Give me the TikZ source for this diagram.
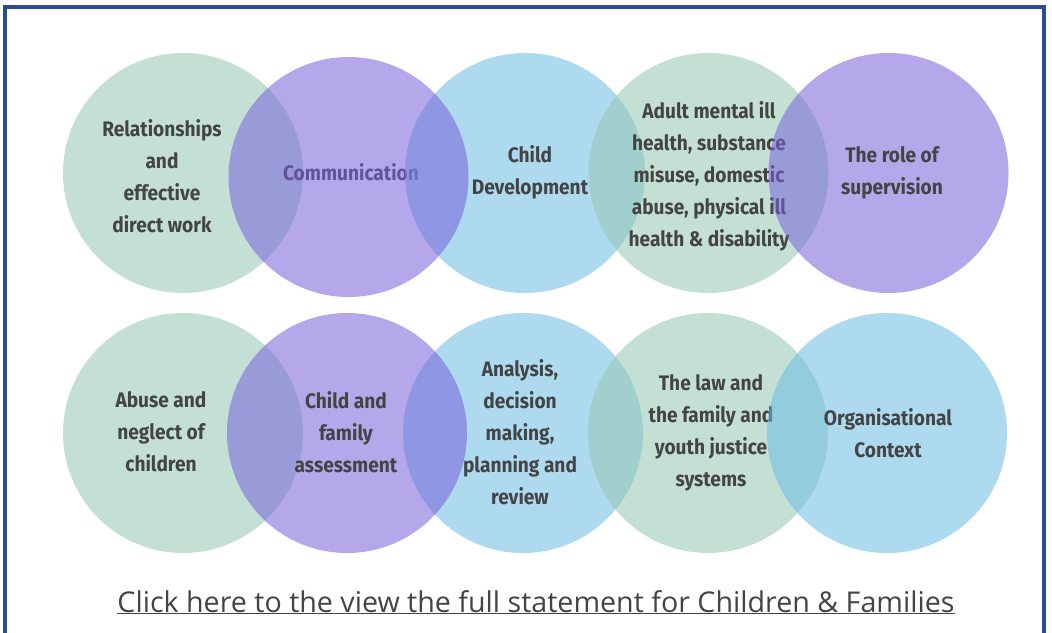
\documentclass[tikz,border=0pt]{standalone}
\usepackage{fontspec}
\setmainfont{Open Sans}
\newfontfamily\labfont[FakeStretch=0.91]{Fira Sans}
\newfontfamily\linkfont{Open Sans}
\definecolor{cgreen}{RGB}{149,199,179}
\definecolor{cpurple}{RGB}{119,97,220}
\definecolor{cblue}{RGB}{108,188,228}
\definecolor{txt}{RGB}{68,68,68}
\definecolor{frame}{RGB}{44,74,154}
\tikzset{
  bubble/.style={circle, minimum size=240pt, inner sep=0pt, fill opacity=0.55},
  label/.style={align=center, text=txt, inner sep=0pt,
    font=\labfont\bfseries\fontsize{21}{32}\selectfont},
}
\begin{document}
\begin{tikzpicture}[x=1pt,y=-1pt]
\path[use as bounding box] (0,0) rectangle (1052,632);
\clip (0,0) rectangle (1052,632);
\fill[white] (0,0) rectangle (1052,632);
\draw[frame, line width=4pt] (5,6.5) rectangle (1044,660);
% top row
\node[bubble, fill=cgreen] (a1) at (183,173) {};
\node[label] (ta1) at (162,176) {Relationships\\and\\effective\\direct work};
\node[label] (ta2) at (351,172) {Communication};
\node[bubble, fill=cblue] (a3) at (525,173) {};
\node[label] (ta3) at (530,172.5) {Child\\Development};
\node[bubble, fill=cpurple] (a2) at (348.5,177) {};
\node[bubble, fill=cgreen] (a4) at (708.5,173) {};
\node[label] (ta4) at (709,176) {Adult mental ill\\health, substance\\misuse, domestic\\abuse, physical ill\\health \& disability};
\node[bubble, fill=cpurple] (a5) at (888.5,173) {};
\node[label] (ta5) at (892,172.5) {The role of\\supervision};
% bottom row
\node[bubble, fill=cgreen] (b1) at (183,433) {};
\node[label] (tb1) at (161,432) {Abuse and\\neglect of\\children};
\node[bubble, fill=cblue] (b3) at (523,433) {};
\node[bubble, fill=cpurple] (b2) at (347,433) {};
\node[label] (tb2) at (346,432) {Child and\\family\\assessment};
\node[label] (tb3) at (520,432) {Analysis,\\decision\\making,\\planning and\\review};
\node[bubble, fill=cgreen] (b4) at (708,433) {};
\node[label] (tb4) at (711,432.5) {The law and\\the family and\\youth justice\\systems};
\node[bubble, fill=cblue] (b5) at (887,433) {};
\node[label] (tb5) at (888,433) {Organisational\\Context};
% link
\node[text=txt, inner sep=0pt, anchor=base] (link) at (536,612)
  {\resizebox{837pt}{!}{\linkfont\fontsize{30}{36}\selectfont\underline{Click here to the view the full statement for Children \& Families}}};
\end{tikzpicture}
\end{document}
